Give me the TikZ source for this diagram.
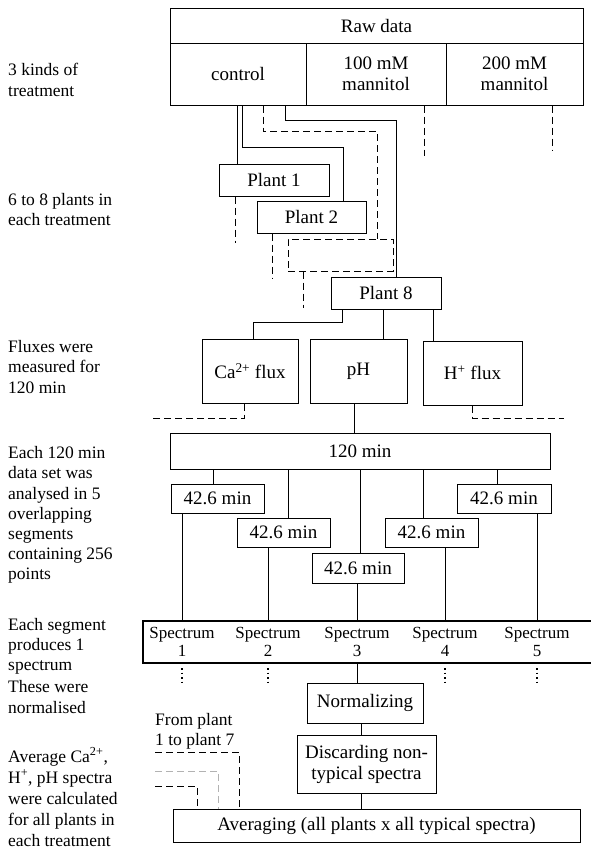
\documentclass[tikz,border=0pt]{standalone}
\usepackage{fontspec}
\setmainfont{Liberation Serif}
\usepackage{tikz}

\newcommand{\cellfont}{\fontsize{19}{21}\selectfont}
\newcommand{\sidefont}{\fontsize{17.5}{20.2}\selectfont}
\newcommand{\specfont}{\fontsize{17}{18.5}\selectfont}

\tikzset{
  cell/.style={draw,line width=1pt,inner sep=0pt,align=center,font=\cellfont},
  side/.style={anchor=west,align=left,inner sep=0pt,font=\sidefont},
  link/.style={line width=1pt},
  ghost/.style={line width=1pt,dash pattern=on 7pt off 4pt},
  dots/.style={line width=1.2pt,dash pattern=on 1.5pt off 3pt},
}

\begin{document}
\begin{tikzpicture}[x=1pt,y=-1pt]
  \useasboundingbox (0,0) rectangle (591,854);
  % side notes
  \node[side] (n1) at (8,80) {3 kinds of\\treatment};
  \node[side] (n2) at (8,209.5) {6 to 8 plants in\\each treatment};
  \node[side] (n3) at (8,367) {Fluxes were\\measured for\\120 min};
  \node[side] (n4) at (8,515) {Each 120 min\\data set was\\analysed in 5\\overlapping\\segments\\containing 256\\points};
  \node[side] (n5) at (8,646.5) {Each segment\\produces 1\\spectrum};
  \node[side] (n6) at (8,697) {These were\\normalised};
  \node[side,font=\fontsize{17.5}{21}\selectfont] (n7) at (8,797) {Average Ca\textsuperscript{2+},\\H\textsuperscript{+}, pH spectra\\were calculated\\for all plants in\\each treatment};
  % treatments
  \node[cell,minimum width=413pt,minimum height=35pt] (raw) at (376.5,25.5) {Raw data};
  \node[cell,minimum width=136pt,minimum height=62pt] (ctrl) at (238,74) {control};
  \node[cell,minimum width=140pt,minimum height=62pt] (m100) at (376,74) {100 mM\\mannitol};
  \node[cell,minimum width=137pt,minimum height=62pt] (m200) at (514.5,74) {200 mM\\mannitol};
  % plants
  \node[cell,minimum width=110pt,minimum height=32pt] (p1) at (274,180) {Plant 1};
  \node[cell,minimum width=109pt,minimum height=32pt] (p2) at (311.5,217) {Plant 2};
  \node[cell,ghost,minimum width=105pt,minimum height=32pt] (pn) at (340.5,255) {};
  \node[cell,minimum width=110pt,minimum height=32pt] (p8) at (386,293) {Plant 8};
  \draw[link] ([xshift=-1]ctrl.south) -- ([xshift=-1]ctrl.south |- p1.north);
  \draw[link] ([xshift=4]ctrl.south) -- ++(0,42) -| ([xshift=31.5]p2.north);
  \draw[ghost] ([xshift=25]ctrl.south) -- ++(0,26) -| ([xshift=37]pn.north);
  \draw[link] ([xshift=47]ctrl.south) -- ++(0,15) -| ([xshift=10]p8.north);
  \draw[ghost] ([xshift=48]m100.south) -- ++(0,50);
  \draw[ghost] ([xshift=37.5]m200.south) -- ++(0,45);
  \draw[ghost] ([xshift=-39]p1.south) -- ++(0,46);
  \draw[ghost] ([xshift=-39.5]p2.south) -- ++(0,45);
  \draw[ghost] ([xshift=-37.5]pn.south) -- ++(0,36);
  % fluxes
  \node[cell,minimum width=96pt,minimum height=64pt] (ca) at (250,371) {Ca\textsuperscript{2+} flux};
  \node[cell,minimum width=97pt,minimum height=64pt] (ph) at (358.5,371) {pH};
  \node[cell,minimum width=99pt,minimum height=64pt] (hf) at (472.5,373) {H\textsuperscript{+} flux};
  \draw[link] ([xshift=-44]p8.south) -- ++(0,13) -| ([xshift=3]ca.north);
  \draw[link] ([xshift=-3]p8.south) -- ([xshift=-3]p8.south |- ph.north);
  \draw[link] ([xshift=47]p8.south) -- ([xshift=47]p8.south |- hf.north);
  \draw[ghost] ([xshift=-6]ca.south) -- ++(0,15) -- ++(-91,0);
  \draw[ghost] (hf.south) -- ++(0,13) -- ++(91,0);
  % segments
  \node[cell,minimum width=380pt,minimum height=36pt] (t120) at (360,451) {120 min};
  \draw[link] ([xshift=-4]ph.south) -- ([xshift=-4]ph.south |- t120.north);
  \node[cell,minimum width=93pt,minimum height=29pt] (s1) at (217.5,498.5) {42.6 min};
  \node[cell,minimum width=93pt,minimum height=29pt] (s2) at (283.5,532.5) {42.6 min};
  \node[cell,minimum width=92pt,minimum height=30pt] (s3) at (358,568) {42.6 min};
  \node[cell,minimum width=93pt,minimum height=29pt] (s4) at (431.5,532.5) {42.6 min};
  \node[cell,minimum width=94pt,minimum height=29pt] (s5) at (504,498.5) {42.6 min};
  \foreach \s/\d in {s1/-4.5,s2/4.5,s3/2,s4/-8.5,s5/-7}
    \draw[link] ([xshift=\d]\s.north) -- ([xshift=\d]\s.north |- t120.south);
  % spectra (box runs off the right edge)
  \node[inner sep=0pt,minimum width=480pt,minimum height=42pt] (spec) at (383,642) {};
  \draw[line width=1.5pt] (spec.north east) -- (spec.north west) -- (spec.south west) -- (spec.south east);
  \foreach \i/\x in {1/182,2/268,3/357,4/445,5/537}
    \node[font=\specfont,align=center,inner sep=0pt] (sp\i) at (\x,642) {Spectrum\\\i};
  \foreach \i in {1,...,5}
    \draw[link] (sp\i |- s\i.south) -- (sp\i |- spec.north);
  \foreach \i in {1,2,4,5}
    \draw[dots] ([yshift=-5]sp\i |- spec.south) -- ++(0,15);
  % averaging
  \node[cell,minimum width=116pt,minimum height=40pt] (norm) at (365,703) {Normalizing};
  \node[cell,minimum width=139pt,minimum height=58pt] (disc) at (366.5,764) {Discarding non-\\typical spectra};
  \node[cell,minimum width=407pt,minimum height=33pt] (avg) at (376.5,825.5) {Averaging (all plants x all typical spectra)};
  \draw[link] (sp3 |- spec.south) -- (sp3 |- norm.north);
  \draw[link] ([xshift=-4]norm.south) -- ([xshift=-4]norm.south |- disc.north);
  \draw[link] ([xshift=-5]disc.south) -- ([xshift=-5]disc.south |- avg.north);
  \node[side] (from) at (155,731) {From plant\\1 to plant 7};
  \coordinate (f1) at (155,752);
  \coordinate (f2) at (155,771);
  \coordinate (f3) at (155,786);
  \draw[ghost] (f1) -| ([xshift=-137.5]avg.north);
  \draw[ghost,gray!60] (f2) -| ([xshift=-158.5]avg.north);
  \draw[ghost] (f3) -| ([xshift=-179.5]avg.north);
\end{tikzpicture}
\end{document}
